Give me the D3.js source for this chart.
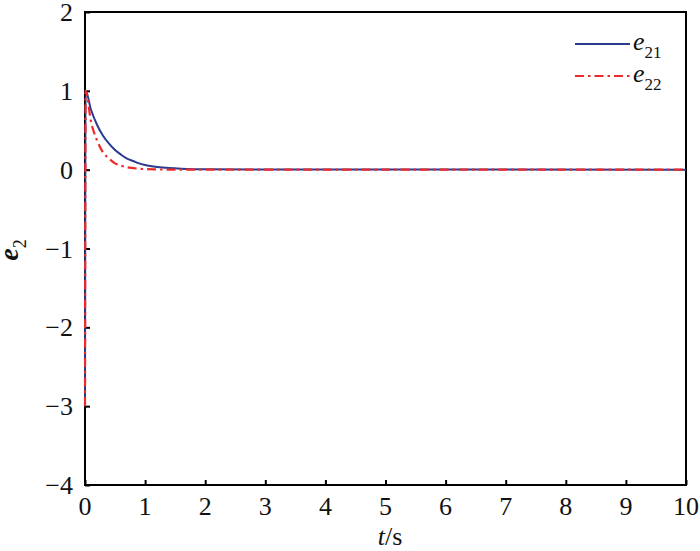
<!DOCTYPE html>
<html>
<head>
<meta charset="utf-8">
<script src="https://cdn.jsdelivr.net/npm/d3@7"></script>
<style>
  body { margin: 0; background: #fff; }
  svg text { font-family: "Liberation Serif", "Times New Roman", serif; fill: #111; }
</style>
</head>
<body>
<svg id="chart" width="700" height="551"></svg>
<script>
// values
var t = [0, 0.01, 0.1, 0.2, 0.3, 0.4, 0.5, 0.6, 0.7, 0.8, 0.9, 1.0, 1.2, 1.4, 1.6, 2.0, 10];
var e21 = [-3, 1, 0.76, 0.57, 0.43, 0.33, 0.25, 0.19, 0.14, 0.11, 0.08, 0.06, 0.035, 0.02, 0.011, 0.004, 0];
var e22 = [-3, 1, 0.61, 0.37, 0.22, 0.14, 0.08, 0.05, 0.03, 0.02, 0.012, 0.007, 0.003, 0.001, 0, 0, 0];
var xTicks = [0, 1, 2, 3, 4, 5, 6, 7, 8, 9, 10];
var yTicks = [-4, -3, -2, -1, 0, 1, 2];

var svg = d3.select("#chart");
var pLeft = 85, pRight = 686, pTop = 12, pBottom = 485;

var x = d3.scaleLinear().domain([0, 10]).range([pLeft, pRight]);
var y = d3.scaleLinear().domain([-4, 2]).range([pBottom, pTop]);

// frame
svg.append("rect")
  .attr("x", pLeft).attr("y", pTop)
  .attr("width", pRight - pLeft).attr("height", pBottom - pTop)
  .attr("fill", "none").attr("stroke", "#000").attr("stroke-width", 2);

// inward ticks on bottom and left
var xAxis = svg.append("g")
  .attr("transform", "translate(0," + pBottom + ")")
  .call(d3.axisTop(x).tickValues(xTicks).tickSize(5).tickFormat(""));
var yAxis = svg.append("g")
  .attr("transform", "translate(" + pLeft + ",0)")
  .call(d3.axisRight(y).tickValues(yTicks).tickSize(5).tickFormat(""));
[xAxis, yAxis].forEach(function(g) {
  g.select(".domain").remove();
  g.selectAll("line").attr("stroke", "#000").attr("stroke-width", 2);
});

svg.selectAll(".xlab").data(xTicks).enter().append("text")
  .attr("x", function(d) { return x(d); })
  .attr("y", pBottom + 30)
  .attr("text-anchor", "middle")
  .attr("font-size", 26)
  .text(function(d) { return d; });

svg.selectAll(".ylab").data(yTicks).enter().append("text")
  .attr("x", pLeft - 12)
  .attr("y", function(d) { return y(d) + 9; })
  .attr("text-anchor", "end")
  .attr("font-size", 26)
  .text(function(d) { return d < 0 ? "\u2212" + Math.abs(d) : d; });

// curves
var line = d3.line()
  .x(function(d, i) { return x(t[i]); })
  .y(function(d) { return y(d); })
  .curve(d3.curveMonotoneX);

svg.append("path").datum(e21)
  .attr("d", line)
  .attr("fill", "none").attr("stroke", "#2b3a8f").attr("stroke-width", 2);

svg.append("path").datum(e22)
  .attr("d", line)
  .attr("fill", "none").attr("stroke", "#ee2a2a").attr("stroke-width", 2.2)
  .attr("stroke-dasharray", "9,4,2.5,4");

// legend
var legend = [
  { name: "21", color: "#2b3a8f", dash: null, yy: 44 },
  { name: "22", color: "#ee2a2a", dash: "9,4,2.5,4", yy: 76 }
];
legend.forEach(function(l) {
  svg.append("line")
    .attr("x1", 575).attr("x2", 630).attr("y1", l.yy).attr("y2", l.yy)
    .attr("stroke", l.color).attr("stroke-width", 2)
    .attr("stroke-dasharray", l.dash);
  var tx = svg.append("text").attr("x", 633).attr("y", l.yy + 6).attr("font-size", 26);
  tx.append("tspan").attr("font-style", "italic").text("e");
  tx.append("tspan").attr("font-size", 17).attr("dy", 8).text(l.name);
});

// axis titles
var xt = svg.append("text")
  .attr("x", 390).attr("y", 545)
  .attr("text-anchor", "middle").attr("font-size", 26);
xt.append("tspan").attr("font-style", "italic").text("t");
xt.append("tspan").text("/s");

var yt = svg.append("text")
  .attr("transform", "translate(18,250) rotate(-90)")
  .attr("text-anchor", "middle").attr("font-size", 28);
yt.append("tspan").attr("font-style", "italic").attr("font-weight", "bold").text("e");
yt.append("tspan").attr("font-size", 18).attr("dy", 8).text("2");
</script>
</body>
</html>
